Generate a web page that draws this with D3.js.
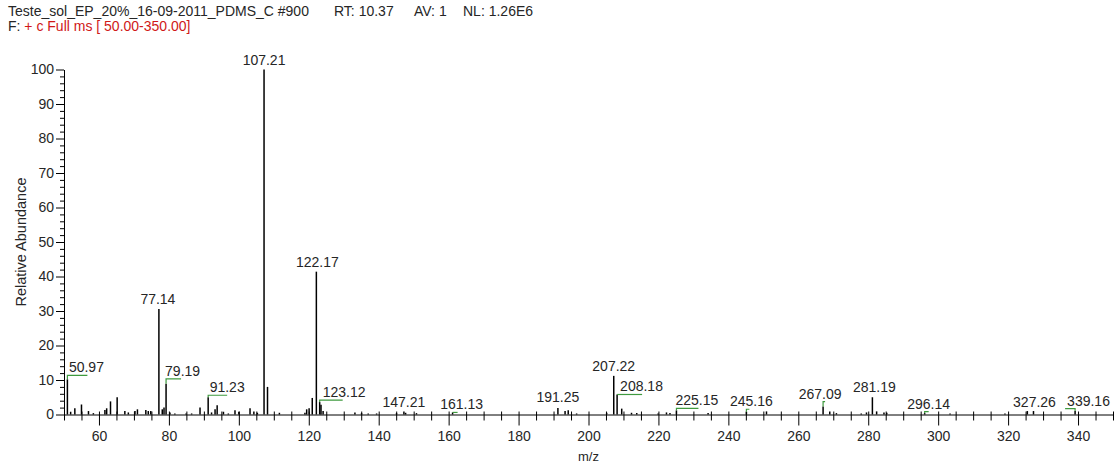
<!DOCTYPE html>
<html>
<head>
<meta charset="utf-8">
<script src="https://cdn.jsdelivr.net/npm/d3@7"></script>
<style>
  html, body { margin: 0; padding: 0; background: #fff; }
  svg { display: block; }
  text { font-family: Arial, "Liberation Sans", sans-serif; }
</style>
</head>
<body>
<svg id="chart" width="1116" height="463"></svg>
<script>
// Centroid spectrum, scan #900: m/z values and relative abundance (%)
const mzValues = [
  50.97, 51.9, 53.1, 55.0, 57.0, 58.4, 61.7, 62.2, 63.3, 65.2,
  67.4, 68.4, 70.3, 71.0, 73.4, 74.1, 74.8, 77.14, 78.1, 78.6,
  79.19, 80.3, 81.7, 84.9, 86.5, 88.9, 91.23, 92.2, 93.2, 93.8,
  95.6, 97.0, 98.9, 100.0, 103.2, 104.3, 105.3, 107.21, 108.2, 111.6,
  118.9, 119.4, 120.1, 121.0, 122.17, 123.12, 123.5, 124.1, 133.2, 135.1,
  137.0, 139.4, 145.1, 147.21, 147.7, 150.8, 161.13, 191.25, 193.3, 194.2,
  196.6, 205.2, 207.22, 208.18, 209.5, 212.3, 213.8, 219.9, 222.3, 223.3,
  225.15, 234.2, 245.16, 250.9, 267.09, 269.0, 270.9, 278.0, 279.5, 281.19,
  282.4, 284.5, 285.3, 296.14, 303.4, 319.1, 325.5, 327.26, 339.16
];
const relAbundance = [
  10.2, 0.8, 1.8, 2.9, 1.0, 0.4, 1.3, 1.8, 3.8, 5.0,
  1.0, 0.6, 1.0, 1.5, 1.3, 1.0, 1.0, 30.6, 1.5, 2.0,
  8.9, 0.6, 0.3, 0.3, 0.3, 2.0, 5.0, 0.6, 1.5, 2.7,
  0.8, 0.3, 1.2, 0.8, 1.8, 0.9, 0.5, 100, 8.0, 0.5,
  0.5, 1.5, 1.8, 4.8, 41.4, 3.6, 2.8, 1.0, 0.6, 0.4,
  0.3, 0.3, 0.4, 0.9, 0.5, 0.4, 0.6, 1.9, 1.0, 1.2,
  0.3, 0.5, 11.2, 5.8, 1.7, 0.5, 0.4, 0.3, 0.6, 0.4,
  1.2, 0.4, 0.8, 0.9, 2.3, 0.9, 0.4, 0.3, 0.6, 5.0,
  0.9, 0.6, 0.5, 0.4, 0.3, 0.3, 1.0, 1.0, 1.0
];

// Peaks that carry an m/z annotation
const labeledMz = [
  50.97, 77.14, 79.19, 91.23, 107.21, 122.17, 123.12, 147.21, 161.13, 191.25,
  207.22, 208.18, 225.15, 245.16, 267.09, 281.19, 296.14, 327.26, 339.16
];

// Axis ticks
const xMajorTicks = [60, 80, 100, 120, 140, 160, 180, 200, 220, 240, 260, 280, 300, 320, 340];
const yMajorTicks = [0, 10, 20, 30, 40, 50, 60, 70, 80, 90, 100];

// Header lines
const headerLine = ["Teste_sol_EP_20%_16-09-2011_PDMS_C #900", "RT: 10.37", "AV: 1", "NL: 1.26E6"];
const filterLine = ["F:", "+ c Full ms [ 50.00-350.00]"];

// Annotation placement: text anchor, x offset, baseline offset from peak top,
// and length of the green leader drawn under the label (0 = none)
const labelPlacement = [
  { anchor: "start",  dx: 1.5, dy: -7,   lead: 20 },
  { anchor: "middle", dx: -1,  dy: -5,   lead: 0 },
  { anchor: "start",  dx: -1,  dy: -8,   lead: 15 },
  { anchor: "start",  dx: 1.5, dy: -5,   lead: 19 },
  { anchor: "middle", dx: 0,   dy: -5,   lead: 0 },
  { anchor: "middle", dx: 1,   dy: -5,   lead: 0 },
  { anchor: "start",  dx: 3,   dy: -5,   lead: 23 },
  { anchor: "middle", dx: 0,   dy: -4.5, lead: 0 },
  { anchor: "middle", dx: 9,   dy: -3,   lead: 5 },
  { anchor: "middle", dx: 0,   dy: -6,   lead: 0 },
  { anchor: "middle", dx: 0,   dy: -5,   lead: 0 },
  { anchor: "start",  dx: 3,   dy: -3,   lead: 25 },
  { anchor: "start",  dx: -1,  dy: -5,   lead: 22 },
  { anchor: "middle", dx: 5,   dy: -5.5, lead: 3 },
  { anchor: "middle", dx: -3,  dy: -8,   lead: 2 },
  { anchor: "middle", dx: 2,   dy: -5.5, lead: 0 },
  { anchor: "middle", dx: 4,   dy: -4.5, lead: 4 },
  { anchor: "middle", dx: 1,   dy: -4,   lead: 0 },
  { anchor: "start",  dx: -8,  dy: -5.5, lead: -10 }
];

const svg = d3.select("#chart");

const x = d3.scaleLinear().domain([50, 350]).range([64, 1113]);
const y = d3.scaleLinear().domain([0, 100]).range([414.5, 69.5]);

const textColor = "#262626";
const leaderColor = "#3f9a3f";
const fontStack = "Arial, 'Liberation Sans', sans-serif";

// Header
const h1 = svg.append("text").attr("y", 16).attr("font-size", 14).attr("fill", textColor);
const headerX = [8, 334, 414, 463];
headerLine.forEach((s, i) => h1.append("tspan").attr("x", headerX[i]).text(s));

const h2 = svg.append("text").attr("x", 8).attr("y", 31).attr("font-size", 14);
h2.append("tspan").attr("fill", textColor).text(filterLine[0] + " ");
h2.append("tspan").attr("fill", "#d01818").text(filterLine[1]);

// X axis: major ticks with labels, minor ticks every 5
const xMinor = d3.range(50, 351, 5).filter(v => !xMajorTicks.includes(v));
const gxMinor = svg.append("g").attr("transform", `translate(0,${y(0)})`)
  .call(d3.axisBottom(x).tickValues(xMinor).tickSize(6).tickSizeOuter(0).tickFormat(""));
gxMinor.select(".domain").remove();
gxMinor.selectAll(".tick line").attr("y1", -3);

const gx = svg.append("g").attr("transform", `translate(0,${y(0)})`)
  .call(d3.axisBottom(x).tickValues(xMajorTicks).tickSize(11).tickSizeOuter(0).tickPadding(6));
gx.selectAll(".tick line").attr("y1", -3);
gx.selectAll("text").attr("font-size", 14).attr("font-family", fontStack).attr("fill", textColor);
gx.select(".domain").attr("stroke", "#000");

// Y axis: major ticks every 10 with labels, minor every 2
const yMinor = d3.range(0, 101, 2).filter(v => v % 10 !== 0);
const gyMinor = svg.append("g").attr("transform", `translate(${x(50)},0)`)
  .call(d3.axisLeft(y).tickValues(yMinor).tickSize(4).tickSizeOuter(0).tickFormat(""));
gyMinor.select(".domain").remove();

const gy = svg.append("g").attr("transform", `translate(${x(50)},0)`)
  .call(d3.axisLeft(y).tickValues(yMajorTicks).tickSize(8).tickSizeOuter(0).tickPadding(2));
gy.selectAll("text").attr("font-size", 14).attr("font-family", fontStack).attr("fill", textColor);

// Axis titles
svg.append("text")
  .attr("transform", `translate(26,${(y(0) + y(100)) / 2}) rotate(-90)`)
  .attr("text-anchor", "middle").attr("font-size", 14.5).attr("fill", textColor)
  .text("Relative Abundance");

svg.append("text")
  .attr("x", (x(50) + x(350)) / 2).attr("y", 461)
  .attr("text-anchor", "middle").attr("font-size", 13).attr("fill", textColor)
  .text("m/z");

// Stick spectrum
const peaks = mzValues.map((m, i) => ({ mz: m, ab: relAbundance[i] }));
svg.append("g").selectAll("line").data(peaks).join("line")
  .attr("x1", d => x(d.mz)).attr("x2", d => x(d.mz))
  .attr("y1", y(0)).attr("y2", d => y(d.ab))
  .attr("stroke", "#000").attr("stroke-width", 1.5);

// Peak annotations
const annot = labeledMz.map((m, i) => {
  const p = peaks.find(q => q.mz === m);
  return { mz: m, ab: p.ab, ...labelPlacement[i] };
});

const ga = svg.append("g");
annot.forEach(a => {
  const px = x(a.mz), top = y(a.ab), base = top + a.dy;
  ga.append("text")
    .attr("x", px + a.dx).attr("y", base)
    .attr("text-anchor", a.anchor).attr("font-size", 14).attr("fill", textColor)
    .text(a.mz.toFixed(2));
  if (a.lead !== 0) {
    const ly = Math.min(base + 3, top);
    ga.append("path")
      .attr("d", `M${px},${top}L${px},${ly}L${px + a.lead},${ly}`)
      .attr("fill", "none").attr("stroke", leaderColor).attr("stroke-width", 1.2);
  }
});
</script>
</body>
</html>
